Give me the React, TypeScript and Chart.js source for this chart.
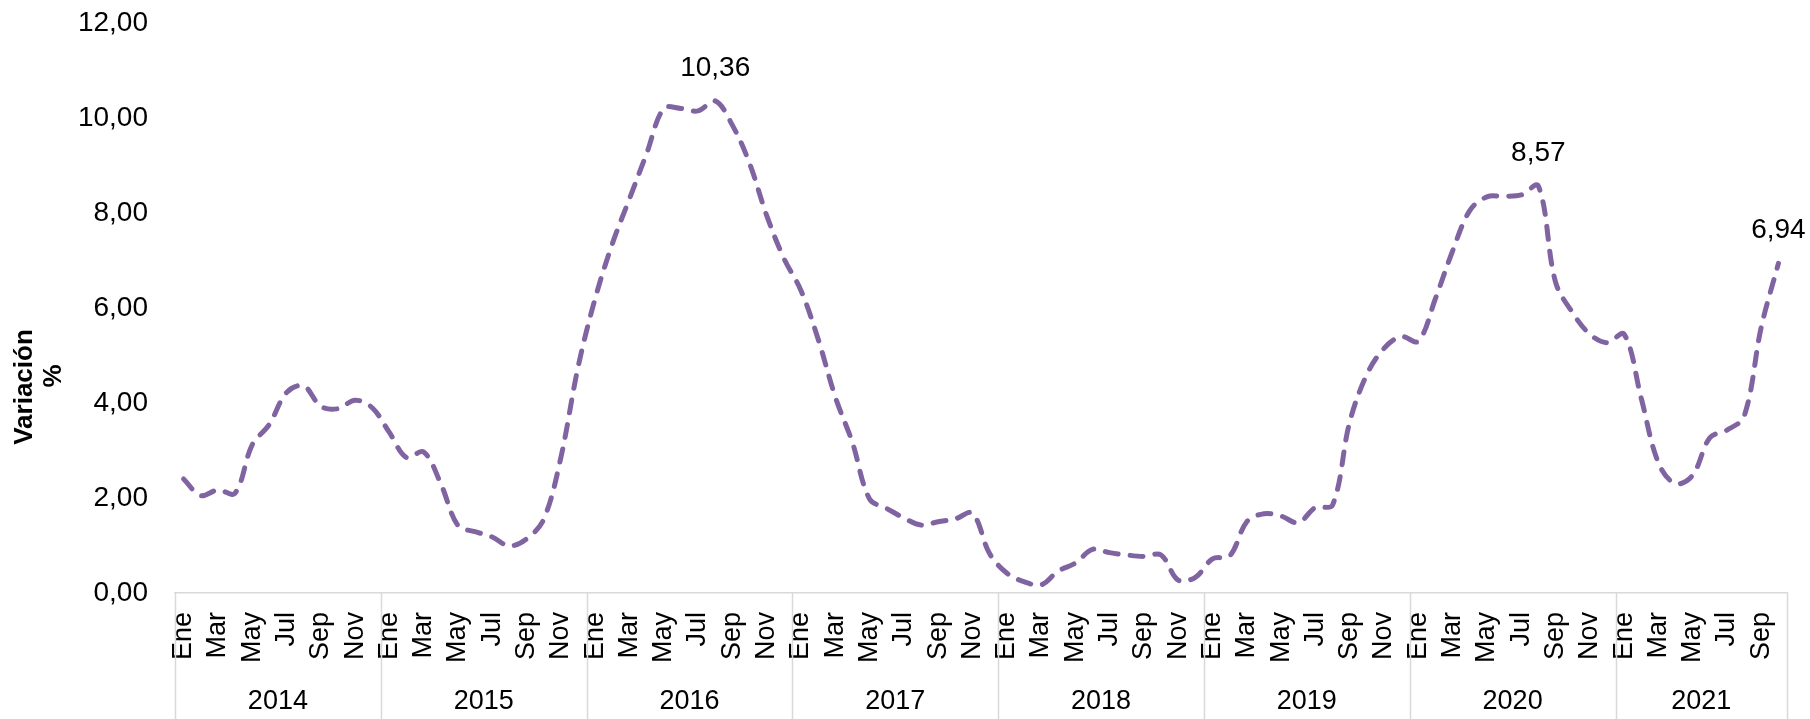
import React, { useEffect, useRef } from 'react';
import { Chart, registerables } from 'chart.js';

Chart.register(...registerables);

// ---- Data ----
const monthNames = ['Ene', 'Feb', 'Mar', 'Abr', 'May', 'Jun', 'Jul', 'Ago', 'Sep', 'Oct', 'Nov', 'Dic'];
const years = ['2014', '2015', '2016', '2017', '2018', '2019', '2020', '2021'];
const monthsPerYear = [12, 12, 12, 12, 12, 12, 12, 10];

const v2014 = [2.40, 2.05, 2.17, 2.10, 3.12, 3.55, 4.22, 4.36, 3.93, 3.88, 4.06, 3.90];
const v2015 = [3.38, 2.85, 2.97, 2.30, 1.42, 1.29, 1.18, 0.99, 1.14, 1.55, 2.85, 4.75];
const v2016 = [6.20, 7.35, 8.30, 9.25, 10.20, 10.20, 10.15, 10.36, 9.85, 9.05, 7.95, 7.05];
const v2017 = [6.37, 5.35, 4.13, 3.17, 1.98, 1.78, 1.58, 1.43, 1.50, 1.56, 1.68, 0.83];
const v2018 = [0.42, 0.24, 0.17, 0.46, 0.63, 0.92, 0.85, 0.80, 0.77, 0.80, 0.27, 0.33];
const v2019 = [0.72, 0.78, 1.50, 1.67, 1.62, 1.48, 1.80, 1.85, 3.60, 4.60, 5.15, 5.40];
const v2020 = [5.30, 6.20, 7.20, 8.05, 8.34, 8.35, 8.38, 8.57, 6.55, 5.90, 5.45, 5.27];
const v2021 = [5.45, 4.10, 2.74, 2.30, 2.48, 3.27, 3.43, 3.72, 5.60, 6.94];

const values = [...v2014, ...v2015, ...v2016, ...v2017, ...v2018, ...v2019, ...v2020, ...v2021];
const monthLabels = monthsPerYear.flatMap((n) => monthNames.slice(0, n));
const labeledIndices = [31, 79, 93];

const yMin = 0;
const yMax = 12;
const yStep = 2;

const FONT = "'Liberation Sans', Arial, sans-serif";
const fmt = (v: number) => v.toFixed(2).replace('.', ',');

const overlay = {
  id: 'overlay',
  afterDraw(chart: any) {
    const ctx = chart.ctx as CanvasRenderingContext2D;
    const xs = chart.scales.x;
    const area = chart.chartArea;
    ctx.save();
    // year boundaries
    const bounds = [0];
    let acc = 0;
    monthsPerYear.forEach((n) => {
      acc += n;
      bounds.push(acc);
    });
    ctx.strokeStyle = '#d9d9d9';
    ctx.lineWidth = 1.5;
    bounds.forEach((b) => {
      const px = Math.round(xs.getPixelForValue(b - 0.5)) + 0.5;
      ctx.beginPath();
      ctx.moveTo(px, area.bottom);
      ctx.lineTo(px, chart.height);
      ctx.stroke();
    });
    // year labels
    ctx.fillStyle = '#000';
    ctx.font = `27px ${FONT}`;
    ctx.textAlign = 'center';
    ctx.textBaseline = 'middle';
    years.forEach((y, k) => {
      const a = xs.getPixelForValue(bounds[k] - 0.5);
      const b = xs.getPixelForValue(bounds[k + 1] - 0.5);
      ctx.fillText(y, (a + b) / 2, 702);
    });
    // data labels
    const meta = chart.getDatasetMeta(0);
    ctx.font = `28px ${FONT}`;
    labeledIndices.forEach((i) => {
      const p = meta.data[i];
      ctx.fillText(fmt(values[i]), p.x, p.y - 33);
    });
    // y axis title
    ctx.font = `bold 26px ${FONT}`;
    ctx.save();
    ctx.translate(25, 387);
    ctx.rotate(-Math.PI / 2);
    ctx.fillText('Variación', 0, 0);
    ctx.restore();
    ctx.save();
    ctx.translate(54, 376);
    ctx.rotate(-Math.PI / 2);
    ctx.fillText('%', 0, 0);
    ctx.restore();
    ctx.restore();
  },
};

export default function App() {
  const ref = useRef<HTMLCanvasElement | null>(null);
  useEffect(() => {
    if (!ref.current) return;
    const chart = new Chart(ref.current, {
      type: 'line',
      data: {
        labels: monthLabels,
        datasets: [
          {
            data: values,
            borderColor: '#8064A2',
            backgroundColor: '#8064A2',
            borderWidth: 5,
            borderDash: [13, 12],
            borderCapStyle: 'round',
            borderJoinStyle: 'round',
            pointRadius: 0,
            pointHoverRadius: 0,
            tension: 0.35,
            fill: false,
          },
        ],
      },
      options: {
        responsive: false,
        animation: false,
        devicePixelRatio: 1,
        layout: { padding: { left: 0, right: 23, top: 23, bottom: 0 } },
        plugins: { legend: { display: false }, tooltip: { enabled: false }, title: { display: false } },
        scales: {
          x: {
            type: 'category',
            offset: true,
            grid: { display: false, drawTicks: false },
            border: { display: true, color: '#d9d9d9', width: 1.5 },
            ticks: {
              autoSkip: false,
              minRotation: 90,
              maxRotation: 90,
              padding: 19,
              color: '#000',
              font: { family: FONT, size: 27 },
              callback: (_v: any, i: number) => (i % 2 === 0 ? monthLabels[i] : ''),
            },
            afterFit: (s: any) => {
              s.height = 126;
              s.paddingLeft = 0;
              s.paddingRight = 0;
            },
          },
          y: {
            min: yMin,
            max: yMax,
            grid: { display: false, drawTicks: false },
            border: { display: false },
            ticks: {
              stepSize: yStep,
              padding: 27,
              color: '#000',
              font: { family: FONT, size: 28 },
              callback: (v: any) => fmt(Number(v)),
            },
            afterFit: (s: any) => {
              s.width = 175;
              s.paddingTop = 0;
              s.paddingBottom = 0;
            },
          },
        },
      },
      plugins: [overlay],
    } as any);
    return () => chart.destroy();
  }, []);
  return (
    <div style={{ position: 'absolute', left: 0, top: 0, width: 1810, height: 719, background: '#fff' }}>
      <canvas ref={ref} width={1810} height={719} style={{ display: 'block' }} />
    </div>
  );
}
